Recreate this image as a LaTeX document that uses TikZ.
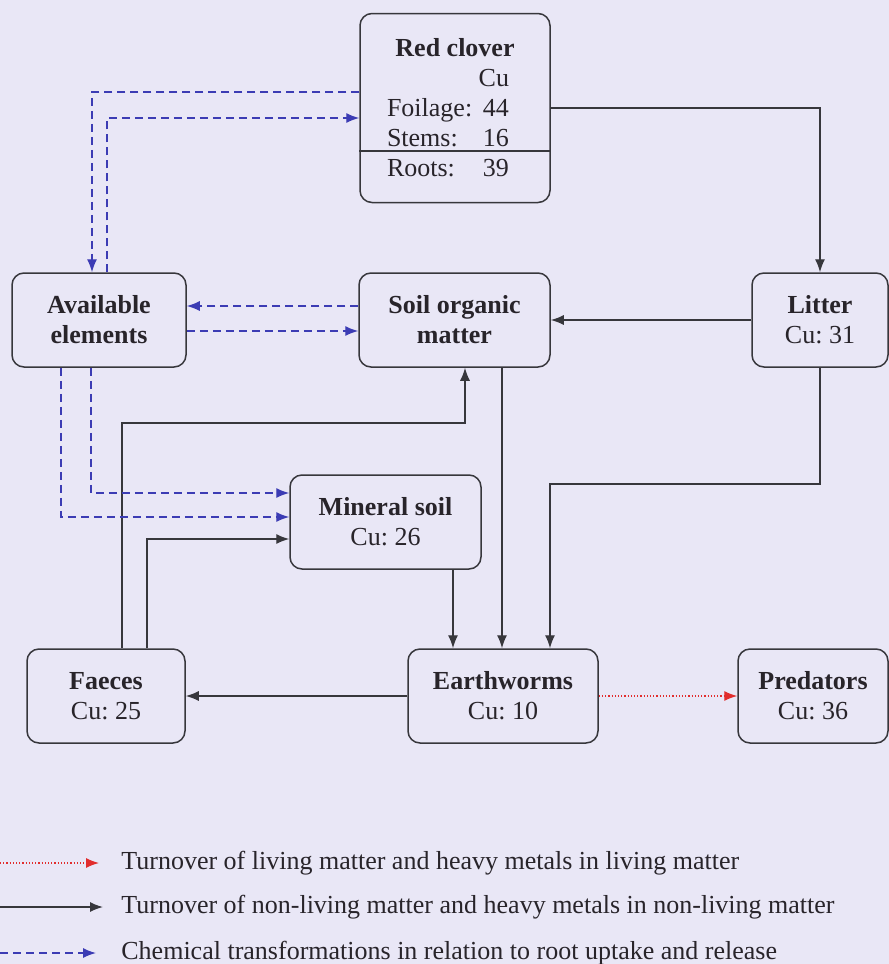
\documentclass[tikz,border=0pt]{standalone}
\usepackage{fontspec}
\setmainfont{Liberation Serif}
\usetikzlibrary{arrows.meta}
\definecolor{pagebg}{RGB}{233,231,246}
\definecolor{boxline}{RGB}{55,55,60}
\definecolor{inkgrey}{RGB}{40,36,42}
\definecolor{chemblue}{RGB}{60,60,180}
\definecolor{livered}{RGB}{225,45,45}
\newcommand{\cuval}[2]{\makebox[68pt][l]{\makebox[61pt]{#1\hfill#2}}}
\frenchspacing
\begin{document}
\begin{tikzpicture}[x=0.5pt, y=-0.5pt,
    box/.style={draw=boxline, line width=0.75pt, rounded corners=6pt, minimum height=47pt,
      align=center, text=inkgrey, font=\fontsize{13}{15}\selectfont},
    legend/.style={text=inkgrey, font=\fontsize{13}{15}\selectfont, inner sep=0pt},
    flow/.style={draw=boxline, line width=0.7pt, -{Latex[length=6.5pt,width=5pt]}},
    chem/.style={draw=chemblue, line width=0.7pt, dash pattern=on 4pt off 2.5pt,
      -{Latex[length=6.5pt,width=5pt]}},
    live/.style={draw=livered, line width=0.6pt, densely dotted, -{Latex[length=6.5pt,width=5pt]}}]
    \fill[pagebg] (0,0) rectangle (889,964);
    \useasboundingbox (0,0) rectangle (889,964);
    \node[box, minimum width=95pt, minimum height=94.5pt] (clover) at (455,108)
      {\textbf{Red clover}\\ \makebox[68pt][l]{\makebox[61pt][r]{Cu}}\\ \cuval{Foilage:}{44}\\
       \cuval{Stems:}{16}\\ \cuval{Roots:}{39}};
    \draw[boxline, line width=0.75pt] (clover.west |- 0,151) -- (clover.east |- 0,151);
    \node[box, minimum width=87pt] (avail) at (99,320) {\textbf{Available}\\\textbf{elements}};
    \node[box, minimum width=95.5pt] (som) at (454.5,320) {\textbf{Soil organic}\\\textbf{matter}};
    \node[box, minimum width=68pt] (litter) at (820,320) {\textbf{Litter}\\Cu: 31};
    \node[box, minimum width=95.5pt] (mineral) at (385.5,522) {\textbf{Mineral soil}\\Cu: 26};
    \node[box, minimum width=79pt] (faeces) at (106,696) {\textbf{Faeces}\\Cu: 25};
    \node[box, minimum width=95pt] (worms) at (503,696) {\textbf{Earthworms}\\Cu: 10};
    \node[box, minimum width=75pt] (predators) at (813,696) {\textbf{Predators}\\Cu: 36};

    % solid turnover
    \draw[flow] (clover.east) -| (litter.north);
    \draw[flow] (litter.west) -- (som.east);
    \draw[flow] (litter.south) |- (550,484) -- (worms.north -| 550,0);
    \draw[flow] (som.south -| 502,0) -- (worms.north -| 502,0);
    \draw[flow] (mineral.south -| 453,0) -- (worms.north -| 453,0);
    \draw[flow] (worms.west) -- (faeces.east);
    \draw[flow] (faeces.north -| 122,0) |- (465,423) -- (som.south -| 465,0);
    \draw[flow] (faeces.north -| 147,0) |- (mineral.west |- 0,539);
    \draw[live] (worms.east) -- (predators.west);

    % chemical transformations
    \draw[chem] (clover.west |- 0,92) -| (avail.north -| 92,0);
    \draw[chem] (avail.north -| 107,0) |- (clover.west |- 0,118);
    \draw[chem] (som.west |- 0,306) -- (avail.east |- 0,306);
    \draw[chem] (avail.east |- 0,331) -- (som.west |- 0,331);
    \draw[chem] (avail.south -| 91,0) |- (mineral.west |- 0,493);
    \draw[chem] (avail.south -| 61,0) |- (mineral.west |- 0,517);

    % legend
    \node[legend, anchor=west] (keylive) at (121,863) {Turnover of living matter and heavy metals in living matter};
    \node[legend, anchor=west] (keyflow) at (121,907) {Turnover of non-living matter and heavy metals in non-living matter};
    \node[legend, anchor=west] (keychem) at (121,953) {Chemical transformations in relation to root uptake and release};
    \coordinate (livestart) at (0,863);
    \coordinate (flowstart) at (0,907);
    \coordinate (chemstart) at (0,953);
    \draw[live] (livestart) -- ([xshift=-11pt]keylive.west);
    \draw[flow] (flowstart) -- ([xshift=-9pt]keyflow.west);
    \draw[chem] (chemstart) -- ([xshift=-12.5pt]keychem.west);
\end{tikzpicture}
\end{document}
